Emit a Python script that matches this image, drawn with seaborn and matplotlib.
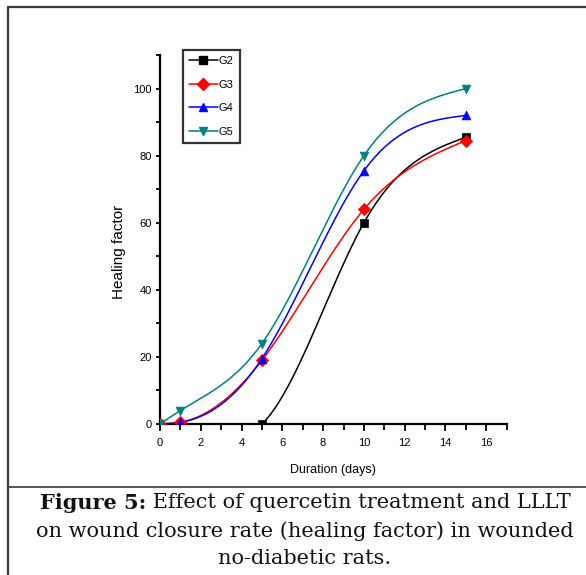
import numpy as np
import pandas as pd
import matplotlib
matplotlib.use("Agg")
import matplotlib.pyplot as plt
import seaborn as sns
from matplotlib.lines import Line2D
from matplotlib.ticker import MultipleLocator

# ---- data ----
groups = ["G2", "G3", "G4", "G5"]
g2_days = [0, 1, 5, 10, 15]
g2_vals = [0, 0, 0, 60, 85.5]
g3_days = [0, 1, 5, 10, 15]
g3_vals = [0, 0.5, 19, 64, 84.5]
g4_days = [0, 1, 5, 10, 15]
g4_vals = [0, 0.5, 19.5, 75.5, 92]
g5_days = [0, 1, 5, 10, 15]
g5_vals = [0, 4, 24, 80, 100]
colors = ["#000000", "#ff0000", "#0000ff", "#008080"]
markers = ["s", "D", "^", "v"]
x_ticks = [0, 2, 4, 6, 8, 10, 12, 14, 16]
y_ticks = [0, 20, 40, 60, 80, 100]


def natural_spline(x, y, xs):
    x = np.asarray(x, float); y = np.asarray(y, float)
    n = len(x)
    h = np.diff(x)
    A = np.zeros((n, n)); b = np.zeros(n)
    A[0, 0] = 1; A[-1, -1] = 1
    for i in range(1, n - 1):
        A[i, i - 1] = h[i - 1]
        A[i, i] = 2 * (h[i - 1] + h[i])
        A[i, i + 1] = h[i]
        b[i] = 6 * ((y[i + 1] - y[i]) / h[i] - (y[i] - y[i - 1]) / h[i - 1])
    M = np.linalg.solve(A, b)
    out = np.empty_like(xs)
    for k, t in enumerate(xs):
        i = min(max(np.searchsorted(x, t) - 1, 0), n - 2)
        dx1 = x[i + 1] - t; dx0 = t - x[i]
        out[k] = (M[i] * dx1 ** 3 + M[i + 1] * dx0 ** 3) / (6 * h[i]) \
            + (y[i] / h[i] - M[i] * h[i] / 6) * dx1 \
            + (y[i + 1] / h[i] - M[i + 1] * h[i] / 6) * dx0
    return out


series = [(g2_days, g2_vals), (g3_days, g3_vals), (g4_days, g4_vals), (g5_days, g5_vals)]

sns.set_style("ticks")
plt.rcParams["font.family"] = ["Liberation Sans", "DejaVu Sans"]
plt.rcParams["text.color"] = "black"
plt.rcParams["axes.labelcolor"] = "black"
plt.rcParams["xtick.color"] = "black"
plt.rcParams["ytick.color"] = "black"
plt.rcParams["axes.edgecolor"] = "black"

fig = plt.figure(figsize=(5.86, 5.75), dpi=100)
ax = fig.add_axes([0.273, 0.2626, 0.5916, 0.6417])

pts_frames = []
curve_frames = []
for g, (d, v) in zip(groups, series):
    xs = np.linspace(d[0], d[-1], 300)
    ys = natural_spline(d, v, xs)
    curve_frames.append(pd.DataFrame({"day": xs, "val": ys, "group": g}))
    pts_frames.append(pd.DataFrame({"day": d, "val": v, "group": g}))
curves = pd.concat(curve_frames)
pts = pd.concat(pts_frames)

pal = dict(zip(groups, colors))
sns.lineplot(data=curves, x="day", y="val", hue="group", palette=pal, ax=ax,
             legend=False, linewidth=1.1, estimator=None, sort=False)
for g, m in zip(groups, markers):
    sub = pts[pts.group == g]
    if g == "G2":
        sub = sub[sub.day >= 5]
    sns.scatterplot(data=sub, x="day", y="val", color=pal[g], marker=m, s=40,
                    edgecolor=pal[g], linewidth=0.5, ax=ax, legend=False, zorder=5)

ax.set_xlim(0, 17)
ax.set_ylim(0, 110)
ax.set_xticks(x_ticks)
ax.set_yticks(y_ticks)
ax.xaxis.set_minor_locator(MultipleLocator(1))
ax.yaxis.set_minor_locator(MultipleLocator(10))
ax.tick_params(which="both", direction="out", width=1.3, labelsize=8)
ax.tick_params(axis="x", which="major", length=5, pad=5)
ax.tick_params(axis="x", which="minor", length=4)
ax.tick_params(axis="y", which="major", length=3, pad=3)
ax.tick_params(axis="y", which="minor", length=3)
for s in ["top", "right"]:
    ax.spines[s].set_visible(False)
for s in ["left", "bottom"]:
    ax.spines[s].set_linewidth(1.6)
ax.set_xlabel("Duration (days)", fontsize=9)
ax.set_ylabel("Healing factor", fontsize=11)
ax.xaxis.set_label_coords((333 - 160) / 346.7, (424 - 464) / 369)
ax.yaxis.set_label_coords((126 - 160) / 346.7, (424 - 252) / 369)

handles = [Line2D([0], [0], color=c, marker=m, markersize=6, linewidth=1.1, label=g)
           for g, c, m in zip(groups, colors, markers)]
leg = ax.legend(handles=handles, loc="upper left", bbox_to_anchor=(0.066, 1.014),
                borderaxespad=0, fontsize=8, frameon=True, fancybox=False,
                handlelength=2.6, handletextpad=0.1, labelspacing=1.22,
                borderpad=0.55)
leg.get_frame().set_edgecolor("black")
leg.get_frame().set_linewidth(1.6)

# figure frame lines
W, H = 586, 575
def fx(p): return p / W
def fy(p): return 1 - p / H
lc = "#3a3a3a"
fig.add_artist(Line2D([fx(7.5), fx(7.5)], [fy(6.5), 0], color=lc, lw=1.6))
fig.add_artist(Line2D([fx(7.5), 1], [fy(6.5), fy(6.5)], color=lc, lw=1.6))
fig.add_artist(Line2D([fx(7.5), 1], [fy(487), fy(487)], color=lc, lw=1.2))

# caption
serif = ["DejaVu Serif", "Liberation Serif"]
cc = "#111111"
fig.canvas.draw()
r = fig.canvas.get_renderer()
cx = 305
t3 = fig.text(fx(cx), fy(531), "on wound closure rate (healing factor) in wounded",
              fontsize=14, family=serif, va="center", ha="center", color=cc)
fs = 14 * 540 / t3.get_window_extent(r).width
t3.set_fontsize(fs)
t1 = fig.text(0, fy(503), "Figure 5:", fontsize=fs, fontweight="bold", family=serif,
              va="center", ha="left", color=cc)
t2 = fig.text(0, fy(503), " Effect of quercetin treatment and LLLT", fontsize=fs,
              family=serif, va="center", ha="left", color=cc)
w1 = t1.get_window_extent(r).width
w2 = t2.get_window_extent(r).width
start = cx - (w1 + w2) / 2
t1.set_x(fx(start)); t2.set_x(fx(start + w1))
fig.text(fx(cx), fy(559), "no-diabetic rats.", fontsize=fs, family=serif,
         va="center", ha="center", color=cc)

fig.savefig("out.png", dpi=100)
